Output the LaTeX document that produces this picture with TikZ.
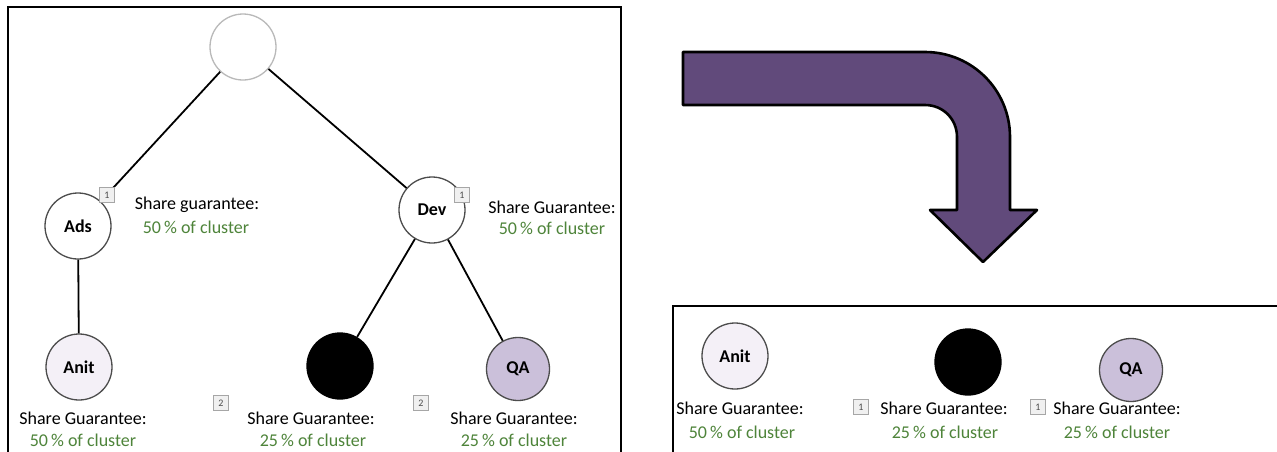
\documentclass[tikz,border=0pt]{standalone}
\usepackage{fontspec}
\setmainfont{Carlito}
\definecolor{arrowpurple}{RGB}{97,74,123}
\definecolor{lbgreen}{RGB}{78,132,58}
\definecolor{anitfill}{RGB}{244,240,247}
\definecolor{qafill}{RGB}{203,192,218}
\begin{document}
\begin{tikzpicture}[x=1pt,y=-1pt,
  every node/.style={font=\fontsize{18}{20}\selectfont, inner sep=0pt},
  circ/.style={circle, draw=gray!60!black, line width=1.3pt, minimum size=66pt, fill=white, font=\fontsize{18}{20}\selectfont\bfseries},
  sg/.style={anchor=center},
  pct/.style={text=lbgreen},
  numbox/.style={draw=gray!70, fill=gray!12, line width=0.7pt, minimum size=15pt, font=\fontsize{10}{11}\selectfont, text=gray!60!black},
  edge/.style={line width=1.8pt, black},
  panel/.style={line width=2.4pt, black}
]
\clip (0,0) rectangle (1277,451);
\fill[white] (0,0) rectangle (1277,451);

% panels
\draw[panel] (8,7) rectangle (621,470);
\draw[panel] (673,306) rectangle (1300,470);

% left tree nodes
\node[circ, draw=gray!55] (root) at (243,47) {};
\node[circ] (ads) at (78,226) {Ads};
\node[circ] (dev) at (432,210) {Dev};
\node[circ, fill=anitfill] (anit) at (79,367) {Anit};
\node[circ, fill=black, draw=black] (blk) at (340,366) {};
\node[circ, fill=qafill, minimum size=63pt] (qa) at (518,369) {QA};

\draw[edge] (root) -- (ads);
\draw[edge] (root) -- (dev);
\draw[edge] (ads) -- (anit);
\draw[edge] (dev) -- (blk);
\draw[edge] (dev) -- (qa);

% number boxes left
\node[numbox] (b1) at (107,195) {1};
\node[numbox] (b2) at (462,195) {1};
\node[numbox] (b3) at (221,403) {2};
\node[numbox] (b4) at (421,403) {2};

% labels left
\node[sg] (l1) at (197,205) {Share guarantee:};
\node[pct] (p1) at (196,227) {50\,\% of cluster};
\node[sg] (l2) at (552,207) {Share Guarantee:};
\node[pct] (p2) at (552,228) {50\,\% of cluster};
\node[sg] (l3) at (83,418) {Share Guarantee:};
\node[pct] (p3) at (83,440) {50\,\% of cluster};
\node[sg] (l4) at (311,418) {Share Guarantee:};
\node[pct] (p4) at (313,440) {25\,\% of cluster};
\node[sg] (l5) at (514,418) {Share Guarantee:};
\node[pct] (p5) at (514,440) {25\,\% of cluster};

% arrow
\draw[fill=arrowpurple, line width=2.6pt, line join=round]
  (683,52) -- (925,52) .. controls (972,52) and (1010,90) .. (1010,137)
  -- (1010,210) -- (1037,210) -- (983,262) -- (930,210) -- (957,210)
  -- (957,137) .. controls (957,119) and (943,105) .. (925,105)
  -- (683,105) -- cycle;

% right panel
\node[circ, fill=anitfill] (anit2) at (735,356) {Anit};
\node[circ, fill=black, draw=black] (blk2) at (968,362) {};
\node[circ, fill=qafill, minimum size=63pt] (qa2) at (1131,370) {QA};
\node[numbox] (b5) at (861,407) {1};
\node[numbox] (b6) at (1038,407) {1};
\node[sg] (l6) at (740,408) {Share Guarantee:};
\node[pct] (p6) at (742,432) {50\,\% of cluster};
\node[sg] (l7) at (944,408) {Share Guarantee:};
\node[pct] (p7) at (945,432) {25\,\% of cluster};
\node[sg] (l8) at (1117,408) {Share Guarantee:};
\node[pct] (p8) at (1117,432) {25\,\% of cluster};
\end{tikzpicture}
\end{document}
